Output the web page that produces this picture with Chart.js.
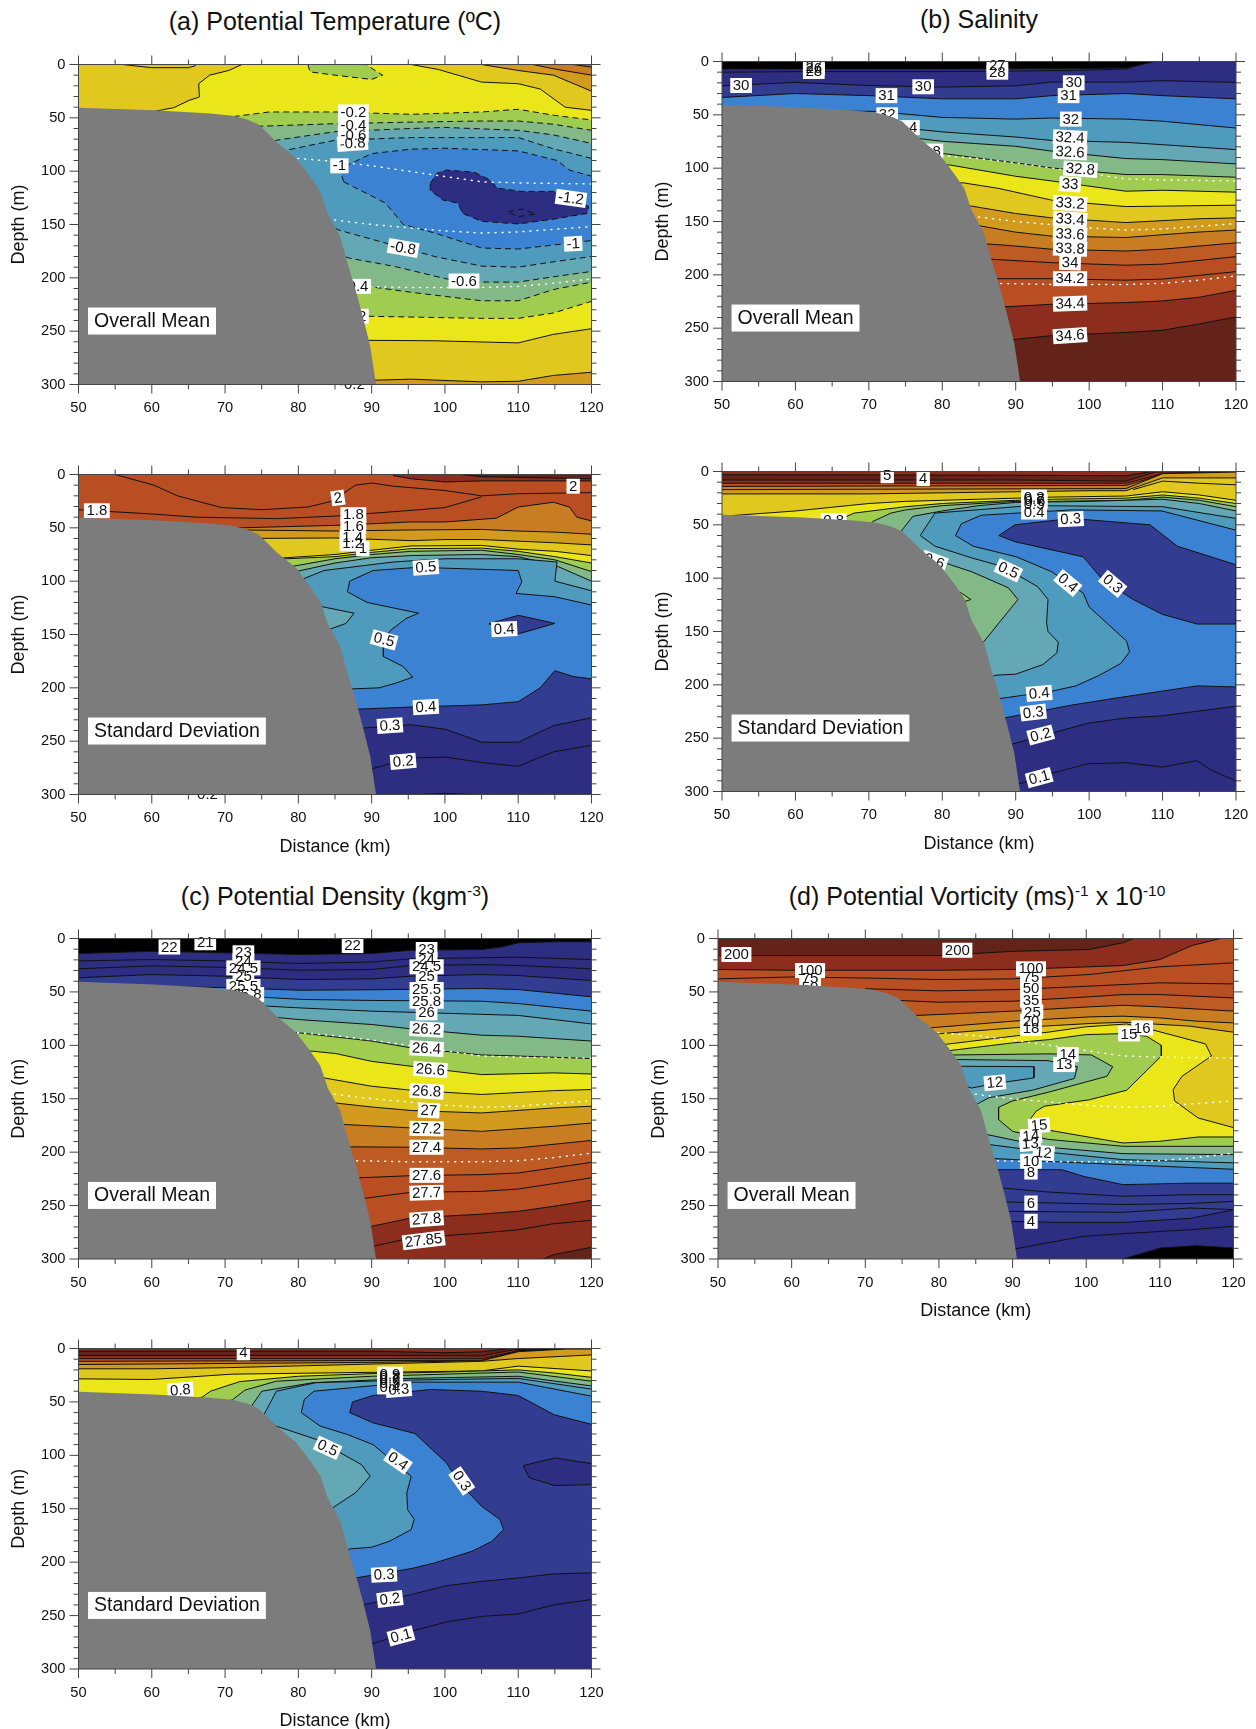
<!DOCTYPE html>
<html><head><meta charset="utf-8">
<script src="https://cdn.jsdelivr.net/npm/chart.js@4/dist/chart.umd.min.js"></script>
<style>
html,body{margin:0;padding:0;background:#fff;width:1256px;height:1729px;overflow:hidden;font-family:"Liberation Sans",Arial,sans-serif}
canvas{position:absolute}
.t{position:absolute;font-size:25px;line-height:30px;white-space:nowrap;transform:translateX(-50%);color:#111}
.t sup{font-size:15.5px;line-height:0;vertical-align:9px}
</style></head><body>
<script>
const colors={black:'#000',navy1:'rgb(45,45,130)',navy2:'rgb(50,60,145)',blue:'rgb(60,130,210)',teal1:'rgb(78,155,190)',teal2:'rgb(100,168,182)',green1:'rgb(130,185,135)',green2:'rgb(160,205,80)',yellow:'rgb(235,230,25)',gold:'rgb(225,200,30)',orange1:'rgb(210,155,30)',orange2:'rgb(200,125,35)',orange3:'rgb(190,90,35)',orange4:'rgb(185,78,35)',brown:'rgb(140,45,30)',dark:'rgb(100,35,25)',gray:'rgb(124,124,124)'};
const distanceTicks=[50,60,70,80,90,100,110,120];
const depthTicks=[0,50,100,150,200,250,300];
const terrain=[[50,40.5],[60.3,43],[68,46],[71,48],[73,51.5],[74.5,56],[75.6,63],[77,72.6],[79.7,88],[81.6,105],[83,119],[84,139.6],[85.7,161],[86.7,186],[87.8,211],[88.9,239],[89.8,264],[90.6,300],[50,300],[50,40.5]];
const isoUpper=[[78,87],[85,91],[90,95],[95,100],[100,105],[105,110],[110,111],[120,112]];
const isoMiddle=[[84,145],[90,150],[95,153],[100,156],[105,158],[110,157],[120,152]];
const isoLower=[[87,208],[95,209],[100,209],[105,209],[110,208],[115,205],[120,201]];

/* (a) potential temperature, mean */
const tempMeanBands=['gold','yellow','orange1','orange2','orange3','orange1','green2','green1','teal2','teal1','blue','navy1',null,'green2',null];
const tempMeanPaths=[
[[50,0],[120,0]],
[[72.3,0],[70.5,5.6],[67.9,10],[66.4,18],[66.5,30.5],[65.1,33.6],[63,40.5],[60.3,44],[65,200],[89.4,258.6],[98.6,259],[110,261],[114.8,253],[120,247.7],[120,43],[116.4,40],[113,23],[110,18],[105,16.5],[99.1,4.7],[95.4,0],[72.3,0]],
[[105,0],[110,5.6],[114.8,10],[120,25],[120,0],[105,0]],
[[112,0],[114.8,4],[120,10],[120,0],[112,0]],
[[117.5,0],[120,2.5],[120,0],[117.5,0]],
[[86,298],[90.2,296],[95.4,295],[105,297.5],[110,297],[114.8,291.5],[120,288.5]],
[[66,80],[71.4,48.6],[76,44.5],[85,44.5],[95.4,46.7],[105,44.5],[110,42],[115,47.7],[120,52],[120,222],[114.8,233],[110,238],[105,238],[89.4,236],[84,220],[66,80]],
[[70,80],[74.3,58],[85,55.5],[95.4,54],[105,53],[110,53],[114.8,56],[120,61.7],[120,204],[114.8,211],[110,221.5],[105,221.5],[95.9,214],[87.8,206.5],[84,190],[70,80]],
[[72,90],[77,71],[85,63],[95.4,60],[100,59],[110,61.7],[114.8,66],[120,74],[120,194],[114.8,199],[110,204],[105,204],[100.2,201],[93.2,189.4],[87,181.6],[82,170],[72,90]],
[[76,100],[78.6,80],[85,71],[95.4,68.5],[105,68.5],[110,68.5],[114.8,79],[120,88],[120,180],[114.8,185],[110,190],[105,189],[98.6,180],[94.3,172],[85.4,155],[80,130],[76,100]],
[[86.2,110],[85.6,98],[90,83.5],[95.4,79.4],[100,78.5],[110,81],[115.3,90],[117,99],[120,104.7],[120,165],[116.4,168],[110,173],[105,172],[98.6,158],[94.3,150],[91.9,130],[86.2,110]],
[[98,111.5],[98.9,102],[100.2,99],[104,101],[106.1,108],[107.2,116],[110.5,119],[114.8,119],[119.6,133],[119.4,139.6],[114.8,145],[110,149.5],[105,147],[102.4,139.6],[101.8,130],[99.7,127],[98,118],[98,111.5]],
[[108.6,138],[110.4,135.5],[112.4,140],[110,142.7],[108.6,138]],
[[81.3,0],[81.6,7],[85,10],[90,14],[91.5,10],[89.2,0],[81.3,0]],
[[56,0],[60,3],[65,3],[66,1]]
];
const tempMeanDashed=[6,7,8,9,10,11,12,13];
const tempMeanLabels=[[87.5,44.5,'-0.2',0],[87.5,57,'-0.4',0],[87.5,66,'-0.6',0],[87.4,74,'-0.8',-4],[85.6,95,'-1',0],[117.2,125.5,'-1.2',8],[117.5,168,'-1',-3],[94.3,172,'-0.8',10],[102.6,203,'-0.6',0],[87.8,208,'-0.4',0],[87.5,236,'-0.2',0],[87.3,300,'-0.2',0]];

/* (a) potential temperature, standard deviation */
const tempStdBands=['orange4','brown','dark',null,null,'orange2','orange1','gold','yellow','green2','green1','teal2','teal1','blue','teal2','navy2','navy2','navy1',null,null];
const tempStdPaths=[
[[50,0],[120,0]],
[[93,1],[95.4,4],[100,7],[105,6],[110,6],[120,6],[120,0],[93,0],[93,1]],
[[102,0],[105,2],[120,4],[120,0],[102,0]],
[[55,0],[60.3,10],[63.5,20],[69.5,31],[75,33],[81.3,30.5],[84.6,25],[87.8,10],[90,8],[93,11],[100,15],[105,20],[110,18],[120,17]],
[[50,33],[60,37],[66,40],[77,41.4],[85,39],[95.4,33.6],[100,31],[105,21]],
[[50,50],[72,50],[85,47.7],[95.4,44.5],[100,44.5],[105,42],[107,41],[110,30.5],[114.8,26],[117,30.5],[118,40],[120,43.5]],
[[72,52],[85,53],[95.4,52],[105,51.5],[110,53],[115,54],[120,56]],
[[72,60],[85,59.5],[95.4,62],[100,61],[105,61],[110,62.5],[115,64],[120,66]],
[[74,80],[85,75],[90,71],[95.4,67],[105,66.5],[110,70],[115,72],[120,76]],
[[75,80],[85,77],[90,73],[95.4,69.5],[105,69],[110,72],[115,77],[120,83]],
[[76,90],[85,79],[90,75],[95.4,72],[105,71],[110,75],[115,80],[120,91]],
[[77,95],[85,83],[90,78],[95.4,76],[105,75],[110,77],[115,85],[120,100]],
[[78,110],[80.8,97.5],[83.5,90],[93,82],[100,79],[110,79],[115.3,82],[115,100],[120,109],[120,300],[78,300],[78,110]],
[[120,122.4],[115,114.6],[109.7,111.5],[110.5,100.6],[110,90],[96.4,87],[90.2,90],[87,100],[86.7,110],[89.4,120],[96.4,130],[94.7,135],[92.6,146],[91.6,155],[91.6,170.7],[94.3,180],[95.6,190],[93.3,195.6],[91,200],[87.3,201],[85,230],[85,300],[120,300],[120,122.4]],
[[83.3,124],[87.6,130],[86.5,139.6],[84.3,145],[80,145],[80,124],[83.3,124]],
[[85,221],[88,220],[95.4,218],[105,216],[110,213],[113,200],[115,184],[117.5,189.4],[120,191.6]],
[[106,140],[110,132],[115,139.6],[110,149.5],[106,140]],
[[85,238],[88.9,237.7],[95.4,234.6],[100.2,239],[105,251],[110,251],[114.8,235.5],[120,228]],
[[88,280],[90,276],[95.4,265.7],[100.2,265],[105,270],[110,273.5],[114.8,260],[120,254]],
[[97,300],[100,299],[104,300]]
];
const tempStdLabels=[[52.5,34,'1.8',0],[85.4,22,'2',-8],[87.5,37.7,'1.8',0],[87.5,48.6,'1.6',0],[87.4,58.6,'1.4',0],[87.4,65,'1.2',0],[88.8,69.5,'1',0],[97.4,87,'0.5',-4],[91.7,155,'0.5',15],[108.1,145,'0.4',-3],[97.4,218,'0.4',-3],[92.5,235.5,'0.3',-4],[94.3,269,'0.2',-5],[117.5,11,'2',0],[67.6,300,'0.2',0]];

/* (b) salinity, mean */
const salinityMeanBands=['black','navy1',null,'navy2','blue','teal1','teal2','green1','green2','yellow','gold','orange1','orange2','orange3','orange4',null,'brown','dark'];
const salinityMeanPaths=[
[[50,0],[120,0]],
[[50,7],[80,7],[100,6.5],[105,6],[108.9,0],[120,0]],
[[50,10],[60,9.5],[80,9.5],[90,9],[100,8],[105,7],[107.5,2]],
[[50,22.8],[60,19.6],[70,22.5],[80,24],[90,22.8],[94.9,19.3],[105,19.3],[110,18],[120,19.6]],
[[50,33.7],[60,30],[70,32],[80,35],[90,35],[94.9,32],[105,30],[110,32],[120,35]],
[[50,45],[70.9,46.8],[80,52.4],[90,54],[94.9,53],[105,54],[110,56],[120,62.4]],
[[60,60],[75.7,63],[80,66],[90,70.8],[94.9,74],[105,75.8],[110,78],[120,82.6]],
[[72,70],[77.3,72.6],[80,74.8],[90,79.5],[94.9,84],[105,91],[110,92],[120,96]],
[[75,86],[80.2,86.4],[90,95],[94.9,99.8],[105,106],[110,106],[120,108.5]],
[[76,97],[81,97],[90,107.6],[94.9,112],[105,121.6],[110,120.7],[120,122.5]],
[[78,113],[82.9,113.8],[87.7,119],[94.9,130],[105,136],[110,135.6],[120,134.7]],
[[80,135],[84,135.6],[90,142.5],[94.9,146.6],[105,151],[114.7,147.5],[120,146.6]],
[[80,153],[84.8,153.7],[90,160],[94.9,163.7],[105,165],[114.7,160],[120,158]],
[[82,171],[86.1,171],[90,173],[94.9,176],[105,177.7],[110,176],[120,170]],
[[84,185],[86.9,185.5],[94.9,188.6],[105,191],[110,190],[120,183]],
[[84,203],[87.5,203.6],[94.9,203.6],[105,205],[110,204],[120,197]],
[[85,231],[88.5,230],[94.9,227.6],[105,226],[110,224.5],[115,221],[120,214.5]],
[[86,262],[89.3,261],[94.9,257],[105,254],[110,252],[115,246],[120,239.5]]
];
const salinityMeanLabels=[[62.5,4.7,'27',0],[62.5,9.4,'28',0],[62.5,6.5,'26',0],[87.5,3.7,'27',0],[87.5,10,'28',0],[52.6,22.5,'30',0],[77.4,23.7,'30',0],[72.4,32,'31',0],[72.5,50,'32',0],[74.6,62,'32.4',0],[77.8,84,'32.8',0],[97.9,20,'30',0],[97.2,32,'31',0],[97.5,54,'32',0],[97.4,71.4,'32.4',3],[97.4,85,'32.6',3],[98.8,101,'32.8',4],[97.4,115,'33',4],[97.4,133,'33.2',4],[97.4,148,'33.4',4],[97.4,162,'33.6',3],[97.4,175.5,'33.8',2],[97.4,188.6,'34',2],[97.4,203.6,'34.2',0],[97.4,227,'34.4',-2],[97.4,257,'34.6',-4]];

/* (b) salinity, standard deviation */
const salinityStdBands=['brown','dark','brown','orange4','orange2','orange1','gold',null,'yellow','green2','green1','teal2','teal1','blue','navy2','navy2','navy1',null,'green1','green2'];
const salinityStdPaths=[
[[50,0],[120,0]],
[[50,3],[90,3.5],[105,4],[108.5,0]],
[[50,8],[90,8],[105,9],[109,0.5],[120,0]],
[[50,11],[105,11],[110,2],[120,0]],
[[50,14],[105,13],[110,3],[116,1],[120,0]],
[[50,17],[105,16],[110,2],[120,0.5]],
[[50,21],[70,21],[80,20],[90,19],[100,18],[105,18],[110,6],[120,6]],
[[106,17],[110,9],[115,11],[120,12.5]],
[[50,42],[60,37],[70,30],[75,28],[80,27],[85,26],[90,25],[95,24],[105,23],[110,19],[115,22],[120,27]],
[[50,60],[60,55],[66,45],[68,39],[75,33],[80,30],[90,27],[95,26],[105,25],[110,22],[115,25],[120,30]],
[[50,80],[68,70],[70.5,47],[73,39],[75,36],[80,32],[90,28],[95,28],[105,27],[110,24],[115,27],[120,33]],
[[50,100],[72,90],[74.5,55],[76,42],[80,37],[85,32],[90,29],[100,28],[110,26],[115,30],[120,37]],
[[120,44],[110,33],[92,32],[79,39],[77,60],[79,70],[84,81],[88.2,89],[93,108],[94.4,120],[94.2,142],[94.4,150],[95.8,160],[95.6,170],[93.7,181],[90,190],[87.2,191],[85,200],[85,300],[120,300],[120,44]],
[[120,55],[109.9,37],[97.6,36],[85.3,41],[82.6,49],[81.8,60],[84.2,70],[90.1,80],[94.9,94],[99.2,114],[100,127],[105.1,159],[105.5,169],[104.3,180],[101.4,191],[98.2,201],[94.9,206],[87.7,213],[85,230],[85,300],[120,300],[120,55]],
[[87.7,60],[89.9,50],[97.6,44],[108.3,50],[112,70],[120,87.5],[120,143],[114.7,143],[110,134],[106,120],[101.9,102],[99.2,80],[90,66],[87.7,60]],
[[86,232],[88.5,231],[97.6,219],[105,211],[114.7,201],[120,202]],
[[87,257],[89.3,256],[99.8,236],[105.1,231],[110,229],[120,220]],
[[88,299],[90,294],[94.9,283],[99.8,274],[105,273],[110,277],[114.7,271],[116.6,280],[120,290]],
[[76,80],[80.5,86],[84,94],[89,109],[90.3,120],[85.6,160],[80,160],[76,80]],
[[80,108],[82.6,114],[83.9,120],[83,122],[80,120],[80,108]]
];
const salinityStdLabels=[[72.5,4,'5',0],[77.4,6.5,'4',0],[92.5,24,'0.8',0],[92.5,26,'0.7',0],[92.6,28,'0.6',0],[92.5,31,'0.5',0],[92.5,38,'0.4',0],[97.5,44.6,'0.3',-3],[89,92.6,'0.5',25],[97.1,104.5,'0.4',40],[103.2,105.4,'0.3',40],[78.9,84,'0.6',20],[65.2,46,'0.8',0],[93.2,208,'0.4',-5],[92.4,226,'0.3',-7],[93.4,247,'0.2',-15],[93.2,287,'0.1',-15]];

/* (c) potential density, mean */
const densityMeanBands=['black','navy1',null,null,'navy2','blue','teal1','teal2','green1','green2','yellow','gold','orange1','orange2','orange3','orange4',null,'brown',null,'dark'];
const densityMeanPaths=[
[[50,0],[120,0]],
[[50,14],[60,12],[70,13.4],[80.3,15],[90,14],[95.4,11],[105,10.3],[107.7,8],[110,4],[114.8,3],[120,3]],
[[50,21],[60,19.7],[70,21],[80.3,23.4],[90,22],[95.4,19],[110,17.5],[120,19.7]],
[[50,28.4],[60,25.6],[70,27],[80.3,29.7],[90,29],[95.4,25.3],[105,24.4],[110,25.3],[120,28.4]],
[[50,36.8],[60,33.7],[70,35.3],[80.3,38.4],[90,37.8],[95.4,35.3],[105,33.7],[110,34.7],[120,39.3]],
[[50,44],[70,46],[80.3,48.4],[90,48],[105,46.8],[110,47.8],[120,54.6]],
[[60,52],[74.3,54.6],[80.3,57],[90,58],[105,58.7],[110,60.9],[120,68]],
[[70,62],[75.9,63.4],[80.3,65],[90,68],[105,71],[110,72],[120,80]],
[[72,73],[77.6,74.3],[80.3,76],[90,80.5],[95.4,84.6],[105,90.5],[110,91.5],[120,96]],
[[76,87],[79.7,88],[90,96],[95.4,102.4],[105,109],[110,110],[120,112.4]],
[[79,105],[81.9,105.5],[85.1,107.7],[90,115],[95.4,119.6],[105,127.4],[114.8,125.8],[120,126.8]],
[[80,130],[83.5,130.5],[90,138.3],[95.4,142],[105,146],[114.8,142.4],[120,141.4]],
[[82,153],[85.1,154],[90,157.7],[95.4,161],[105,163.3],[114.8,158.6],[120,157]],
[[84,174],[86.5,174.2],[95.4,177.3],[105,180.5],[114.8,175.8],[120,172.7]],
[[85,195],[87.3,195],[95.4,195.4],[105,197],[110,196],[120,189]],
[[86,224],[88.3,224],[95.4,222],[105,221],[110,219.5],[120,209.5]],
[[87,243],[89.2,243],[95.4,237.6],[105,236.7],[110,234.5],[114.8,229.5],[120,224]],
[[88,270],[90,269.4],[95.4,261.6],[105,258],[110,255.4],[114.8,250.7],[120,245]],
[[88,289],[90.2,288],[95.4,280.4],[105,275.7],[110,272.6],[114.8,267],[120,263.8]],
[[113.4,300],[114.8,296],[120,289]]
];
const densityMeanLabels=[[62.4,8,'22',0],[67.3,4,'21',0],[87.4,6.6,'22',0],[72.5,13.4,'23',0],[72.5,21,'24',0],[72.5,27.5,'24.5',0],[72.5,35,'25',0],[72.5,45,'25.5',0],[73,52.5,'25.8',0],[97.5,10.3,'23',0],[97.5,19.7,'24',0],[97.5,26.5,'24.5',0],[97.5,35.3,'25',0],[97.5,47.8,'25.5',0],[97.5,58.7,'25.8',0],[97.5,69.6,'26',0],[97.5,85,'26.2',3],[97.5,103,'26.4',3],[98,122.7,'26.6',4],[97.5,143,'26.8',3],[97.8,161,'27',3],[97.5,178,'27.2',1],[97.5,195.4,'27.4',0],[97.5,221.7,'27.6',0],[97.5,238,'27.7',-2],[97.5,262.6,'27.8',-4],[97.1,282.5,'27.85',-7]];

/* (c) potential density, standard deviation */
const densityStdBands=['brown','dark','brown','orange4','orange2','orange1','gold','yellow','green2','green1','teal2','teal1','blue','navy2','navy1','teal2','navy1',null];
const densityStdPaths=[
[[50,0],[120,0]],
[[50,2.5],[90,2.5],[100,4],[105,3],[109,0]],
[[50,6.5],[90,6.5],[105,7],[109.5,1],[120,0]],
[[50,9.5],[105,9.5],[110,2],[120,0]],
[[50,12],[105,11],[110,2.5],[120,0]],
[[50,15],[90,13],[105,11.5],[110,3],[116.5,0.5],[120,0.5]],
[[50,19],[60,19],[70,18],[105,12],[110,9.4],[120,6]],
[[50,28.4],[60,29],[71,24],[105,21],[110,16.5],[120,21]],
[[50,60],[65,50],[67,45],[68,40],[72,31],[80,26],[90,23.5],[100,22],[110,20],[115,23],[120,27]],
[[60,70],[71,48],[72.7,39],[77,30.6],[90,26],[110,22],[120,30.6]],
[[65,80],[73,60],[75,40],[82,32],[95,28],[110,26],[120,35]],
[[70,100],[75.3,62],[77,40],[82.4,32],[95.4,29.5],[110,28],[120,38],[120,300],[70,300],[70,100]],
[[120,44.6],[110,31.5],[95.4,31.5],[82.1,40],[80.8,47.8],[80.4,60],[83,72.7],[86.7,80.5],[90.2,90],[95.4,119.6],[94.8,135],[94.9,150.8],[95.8,160],[95.4,169.5],[92.4,180.5],[90,186],[87,187.6],[85,200],[85,300],[120,300],[120,44.6]],
[[87,60],[87.4,50],[90.2,44],[98,38.4],[105,40],[110,44],[114.9,62],[120,71],[120,300],[87,300],[87.8,214.8],[95.4,206],[98.6,200.7],[103.7,189.8],[106.4,180.5],[108,169.5],[107.5,160],[105,147.7],[102,126],[100.2,107],[95.9,79.6],[90.2,69.6],[87,60]],
[[110.7,109.6],[115,102.4],[120,107.7],[120,127.4],[115,128.3],[111.5,121],[110.7,109.6]],
[[75,65],[77,72.7],[82.4,85],[88.6,108.6],[89.8,119.6],[87.8,135],[84.7,149],[80,149],[75,65]],
[[86,241],[88.9,239.8],[95.4,230.4],[100.2,222],[105,218],[110,214.8],[114.8,211],[120,210]],
[[87,280],[90,276.6],[95.4,264.7],[100.2,256],[105,250.7],[110,248.5],[114.8,240],[120,235]]
];
const densityStdLabels=[[72.5,4,'4',0],[63.9,39,'0.8',-5],[84,93,'0.5',25],[93.6,105.5,'0.4',35],[102.3,124,'0.3',55],[92.5,24,'0.9',0],[92.5,26,'0.8',0],[92.5,28,'0.7',0],[92.5,30,'0.6',0],[92.5,33,'0.5',0],[92.5,36,'0.4',0],[93.7,38.4,'0.3',-4],[91.7,211.7,'0.3',-3],[92.5,234.5,'0.2',-7],[94,269,'0.1',-15]];

/* (d) potential vorticity, mean */
const vorticityBands=['dark','brown','orange4',null,null,'orange3','orange2','orange1','gold','yellow','green2','green1','teal2','teal1','teal2','teal1','blue','navy2',null,null,null,'navy1',null,'black'];
const vorticityPaths=[
[[50,0],[120,0]],
[[50,16],[60,16],[80,16],[90,12],[100.4,10.3],[105,4],[106.4,0],[120,0]],
[[50,29],[60,29.7],[80,29.7],[90,29],[100.4,26.5],[105,25.3],[110,19.7],[114.4,6.5],[118.2,0],[120,0]],
[[50,37.8],[60,36],[70,37],[80,38.4],[90,37.8],[100.4,33.7],[110,26.5],[120,22.8]],
[[70,47],[80,49],[90,47.8],[100.4,44.6],[110,41.5],[120,42.5]],
[[70,57],[73.9,57.8],[80,59.6],[90,58.7],[100.4,54.6],[105,52.5],[110,52.5],[120,55.6]],
[[74,71],[77.1,72],[90,68],[100.4,64],[105,62.5],[110,64],[120,68]],
[[76,84],[78.7,83.7],[90,77.4],[100.4,73.4],[105,72.7],[110,74.3],[115,77.4],[120,79]],
[[78,90],[80.3,89],[90,83.7],[100.4,79.6],[105,78.4],[114,82],[120,87.7]],
[[78,99],[81,99],[90,91.5],[94.8,87.7],[99.9,82.7],[105.5,80],[108.7,85],[116.2,98.7],[117,110],[113,129],[111.8,141.5],[112,152],[115.2,168],[120,177],[120,300],[85,300],[78,99]],
[[79,105],[81.4,105],[90,97.7],[95,94.6],[99.9,90],[105,89],[108.2,91.5],[110.2,100],[110.2,110],[105.5,142],[100.4,151],[94.3,157],[93.2,161.7],[92.3,170],[93.7,178],[105,191.4],[110,189.8],[115.2,185.8],[120,185.8],[120,300],[85,300],[79,105]],
[[80,109],[82.2,109],[94.8,108],[100.7,109],[103.6,120],[102.8,129],[94.8,144],[90,152],[88.1,158],[88.1,169.5],[90,180.5],[94.8,188],[105,194.5],[120,194.5],[120,300],[85,300],[80,109]],
[[80,113],[82.5,113.3],[94.8,114.3],[98.8,120],[98.4,131],[92.7,142],[86.8,149],[85.2,155],[80,130],[80,113]],
[[80,119],[83,119.6],[92.9,120],[92.9,130.5],[87.6,135.8],[84.4,140],[80,130],[80,119]],
[[84,183],[86.6,183.6],[94.8,195.4],[105,201.4],[120,202.3]],
[[85,192],[87,193],[94.8,200],[105,207],[120,210]],
[[85,206],[87.6,206],[94.8,208.6],[105,211.7],[120,216]],
[[86,216],[87.8,216.4],[96.7,216.4],[99.6,222.6],[105,230.4],[114.1,229],[120,229]],
[[86,233],[88.6,233.5],[94.8,237.3],[105,241.3],[114.1,239.8],[120,239.8]],
[[87,246],[89,246.6],[105,249],[114.1,248],[120,246]],
[[87,255],[89.4,255.4],[105,256.3],[114.1,252.3],[120,253.8]],
[[87,264],[89.7,264.7],[96,265.7],[105,265.7],[114.1,262],[120,254]],
[[88,292],[90.2,290.7],[99.6,278.8],[105,276.3],[114.1,272.6],[120,269.4]],
[[105,300],[110.1,289.7],[114.9,287.6],[120,289.7],[120,300],[105,300]]
];
const vorticityLabels=[[52.5,15,'200',0],[62.5,30,'100',0],[62.5,37.5,'75',0],[62.5,46,'50',0],[82.5,11,'200',0],[92.5,28.4,'100',0],[92.5,36.8,'75',0],[92.5,47,'50',0],[92.5,57.8,'35',0],[92.7,68.7,'25',0],[92.5,77.4,'20',0],[92.5,84.3,'18',0],[107.6,83.7,'16',0],[105.8,89.3,'15',0],[97.5,108.6,'14',0],[97,118,'13',0],[87.6,135,'12',-5],[93.6,175,'15',-5],[92.5,185,'14',-5],[92.4,192,'13',-5],[94.2,200.7,'12',5],[92.5,208.5,'10',0],[92.5,218.6,'8',0],[92.5,247.6,'6',0],[92.5,264.7,'4',0]];

const placements=[
 {plotLeft:78.5,plotTop:64.5,w:513,h:320,bands:tempMeanBands,paths:tempMeanPaths,dashed:tempMeanDashed,labels:tempMeanLabels,caption:'Overall Mean',iso:true,xTitle:false},
 {plotLeft:78.5,plotTop:474.5,w:513,h:320,bands:tempStdBands,paths:tempStdPaths,dashed:[],labels:tempStdLabels,caption:'Standard Deviation',iso:false,xTitle:true},
 {plotLeft:722,plotTop:61.5,w:514,h:320,bands:salinityMeanBands,paths:salinityMeanPaths,dashed:[],labels:salinityMeanLabels,caption:'Overall Mean',iso:true,xTitle:false},
 {plotLeft:722,plotTop:471.5,w:514,h:320,bands:salinityStdBands,paths:salinityStdPaths,dashed:[],labels:salinityStdLabels,caption:'Standard Deviation',iso:false,xTitle:true},
 {plotLeft:78.5,plotTop:938.5,w:513,h:320.5,bands:densityMeanBands,paths:densityMeanPaths,dashed:[],labels:densityMeanLabels,caption:'Overall Mean',iso:true,xTitle:false},
 {plotLeft:78.5,plotTop:1348.5,w:513,h:320.5,bands:densityStdBands,paths:densityStdPaths,dashed:[],labels:densityStdLabels,caption:'Standard Deviation',iso:false,xTitle:true},
 {plotLeft:718,plotTop:938.5,w:515.5,h:320.5,bands:vorticityBands,paths:vorticityPaths,dashed:[],labels:vorticityLabels,caption:'Overall Mean',iso:true,xTitle:true}
];
const titles=[
 ['(a) Potential Temperature (ºC)',335,6],
 ['(b) Salinity',979,4],
 ['(c) Potential Density (kgm<sup>-3</sup>)',335,881],
 ['(d) Potential Vorticity (ms)<sup>-1</sup> x 10<sup>-10</sup>',977,881]
];

function toPoints(p){return p.map(q=>({x:q[0],y:q[1]}));}
function pathDataset(path,band,dashed,base){
 const a=path[0],b=path[path.length-1];
 const closed=path.length>2&&a[0]===b[0]&&a[1]===b[1];
 return {data:toPoints(path),pointRadius:0,tension:0,borderColor:'#111',borderWidth:base?0:1,borderDash:dashed?[6,4]:[],
  fill:band?(closed?'shape':{value:300}):false,backgroundColor:band?colors[band]:'transparent'};
}
const overlay={id:'overlay',
 afterDatasetDraw(chart,args,opts){
  if(args.index!==chart.data.datasets.length-2)return;
  const c=chart.ctx,xs=chart.scales.x,ys=chart.scales.y;
  c.save();c.font='15px "Liberation Sans"';c.textAlign='center';c.textBaseline='middle';
  const place=(x,d,rot,fn)=>{c.save();c.translate(xs.getPixelForValue(x),ys.getPixelForValue(d));c.rotate(rot*Math.PI/180);fn();c.restore();};
  c.fillStyle='#fff';
  for(const [x,d,txt,rot] of opts.labels){
   const w=c.measureText(txt).width+5;
   place(x,d,rot,()=>c.fillRect(-w/2,-7.5,w,15));
  }
  c.fillStyle='#111';
  for(const [x,d,txt,rot] of opts.labels){
   place(x,d,rot,()=>c.fillText(txt,0,0.5));
  }
  c.restore();
 },
 afterDraw(chart,args,opts){
  const c=chart.ctx,xs=chart.scales.x,ys=chart.scales.y,A=chart.chartArea;
  c.save();c.strokeStyle='#444';c.lineWidth=1;
  c.strokeRect(A.left,A.top,A.right-A.left,A.bottom-A.top);
  c.beginPath();
  for(let v=50;v<=120;v+=5){const p=xs.getPixelForValue(v),L=v%10===0?9:5;c.moveTo(p,A.top);c.lineTo(p,A.top-L);c.moveTo(p,A.bottom);c.lineTo(p,A.bottom+L);}
  for(let v=0;v<=300;v+=10){const p=ys.getPixelForValue(v),L=v%50===0?9:5;c.moveTo(A.left,p);c.lineTo(A.left-L,p);c.moveTo(A.right,p);c.lineTo(A.right+L,p);}
  c.stroke();
  c.font='19.5px "Liberation Sans"';c.textBaseline='middle';c.textAlign='left';
  const w=c.measureText(opts.caption).width+12,bx=xs.getPixelForValue(51.3),by=ys.getPixelForValue(240.5);
  c.fillStyle='#fff';c.fillRect(bx,by-13.5,w,27);c.fillStyle='#111';c.fillText(opts.caption,bx+6,by+0.5);
  c.restore();
 }
};
for(const t of titles){const d=document.createElement('div');d.className='t';d.innerHTML=t[0];d.style.left=t[1]+'px';d.style.top=t[2]+'px';document.body.appendChild(d);}
for(const P of placements){
 const cv=document.createElement('canvas');
 const canvasLeft=Math.floor(P.plotLeft)-78,canvasTop=Math.floor(P.plotTop)-15;
 const mLeft=P.plotLeft-canvasLeft,mTop=P.plotTop-canvasTop;
 const W=Math.ceil(mLeft+P.w+24),H=Math.ceil(mTop+P.h)+64;
 const mRight=W-mLeft-P.w,mBottom=H-mTop-P.h;
 cv.width=W;cv.height=H;cv.style.width=W+'px';cv.style.height=H+'px';cv.style.left=canvasLeft+'px';cv.style.top=canvasTop+'px';
 document.body.appendChild(cv);
 const ds=P.paths.map((p,i)=>pathDataset(p,P.bands[i],P.dashed.includes(i),i===0));
 if(P.iso){for(const l of [isoUpper,isoMiddle,isoLower])ds.push({data:toPoints(l),pointRadius:0,tension:0,borderColor:'rgba(255,255,255,.95)',borderWidth:1.5,borderDash:[1,6],borderCapStyle:'round',fill:false});}
 ds.push({data:toPoints(terrain),pointRadius:0,tension:0,borderWidth:0,borderColor:colors.gray,fill:'shape',backgroundColor:colors.gray});
 ds.forEach((d,i)=>{d.order=ds.length-i;});
 new Chart(cv,{type:'line',data:{datasets:ds},plugins:[overlay],options:{
  responsive:false,animation:false,events:[],
  layout:{autoPadding:false,padding:{left:0,right:mRight,top:mTop,bottom:0}},
  plugins:{legend:{display:false},tooltip:{enabled:false},title:{display:false},overlay:{labels:P.labels,caption:P.caption}},
  scales:{
   x:{type:'linear',min:50,max:120,grid:{display:false},border:{display:false},
    afterBuildTicks(s){s.ticks=distanceTicks.map(v=>({value:v}));},
    ticks:{color:'#111',font:{family:'"Liberation Sans"',size:14.7},maxRotation:0,autoSkip:false,padding:7,callback:v=>String(v)},
    title:{display:P.xTitle,text:'Distance (km)',color:'#111',font:{family:'"Liberation Sans"',size:18},padding:{top:0,bottom:1}},
    afterFit(s){s.height=mBottom;}},
   y:{type:'linear',reverse:true,min:0,max:300,grid:{display:false},border:{display:false},
    afterBuildTicks(s){s.ticks=depthTicks.map(v=>({value:v}));},
    ticks:{color:'#111',font:{family:'"Liberation Sans"',size:14.7},autoSkip:false,padding:5,callback:v=>String(v)},
    title:{display:true,text:'Depth (m)',color:'#111',font:{family:'"Liberation Sans"',size:18},padding:{top:8,bottom:0}},
    afterFit(s){s.width=mLeft;}}
  }}});
}
</script>
</body></html>
